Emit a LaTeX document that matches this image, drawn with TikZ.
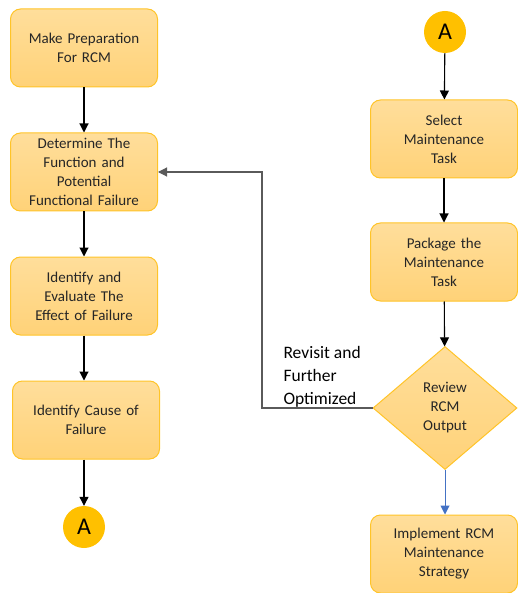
\documentclass[tikz,border=0pt]{standalone}
\usepackage{fontspec}
\setmainfont{Carlito}
\usetikzlibrary{arrows.meta}
\usetikzlibrary{shapes.geometric}
\definecolor{boxtop}{RGB}{255,222,155}
\definecolor{boxbot}{RGB}{255,210,120}
\definecolor{boxline}{RGB}{255,196,40}
\definecolor{circfill}{RGB}{255,192,0}
\definecolor{mblue}{RGB}{68,114,196}
\definecolor{mgray}{RGB}{90,90,90}

\tikzset{
  stepbox/.style={rectangle, rounded corners=10pt, draw=boxline, line width=1pt,
    top color=boxtop, bottom color=boxbot, minimum width=147pt, minimum height=78pt,
    text width=140pt, align=center, font=\fontsize{15}{19}\selectfont, text=black!85},
  decision/.style={diamond, draw=boxline, line width=1pt, top color=boxtop,
    bottom color=boxbot, minimum width=144pt, minimum height=123pt, inner sep=0pt,
    align=center, font=\fontsize{15}{19}\selectfont, text=black!85},
  linkA/.style={circle, fill=circfill, minimum size=42pt, inner sep=0pt,
    font=\fontsize{24}{26}\selectfont},
  flow/.style={-{Triangle[length=9pt,width=9pt]}, line width=1.1pt}
}

\begin{document}
\begin{tikzpicture}[x=1pt, y=-1pt]
    \useasboundingbox (0, 0) rectangle (517, 593);

    % left column
    \node [stepbox] (prep) at (84, 48) {Make Preparation\\For RCM};
    \node [stepbox] (func) at (84, 172) {Determine The\\Function and\\Potential\\Functional Failure};
    \node [stepbox] (effect) at (84, 296) {Identify and\\Evaluate The\\Effect of Failure};
    \node [stepbox] (cause) at (86, 420) {Identify Cause of\\Failure};
    \node [linkA] (abot) at (84, 527) {A};

    % right column
    \node [linkA] (atop) at (445, 32) {A};
    \node [stepbox] (select) at (444, 139) {Select\\Maintenance\\Task};
    \node [stepbox] (package) at (444, 262) {Package the\\Maintenance\\Task};
    \node [decision] (review) at (445, 408) {Review\\RCM\\Output};
    \node [stepbox] (implement) at (444, 554) {Implement RCM\\Maintenance\\Strategy};

    \node [anchor=north west, align=left, font=\fontsize{17.5}{23}\selectfont] (revisit)
      at (280, 343) {Revisit and\\Further\\Optimized};

    \draw [flow] (prep) -- (func);
    \draw [flow] (func) -- (effect);
    \draw [flow] (effect) -- (prep |- cause.north);
    \draw [flow] (cause.south -| abot) -- (abot);

    \draw [flow] (atop) -- (select);
    \draw [flow] (select) -- (package);
    \draw [flow] (package) -- (review);
    \draw [flow, mblue, line width=1pt] (review) -- (review |- implement.north);

    \coordinate (turn) at (262, 408);
    \draw [flow, mgray] (review.west) -- (turn) |- (func.east);
\end{tikzpicture}
\end{document}
